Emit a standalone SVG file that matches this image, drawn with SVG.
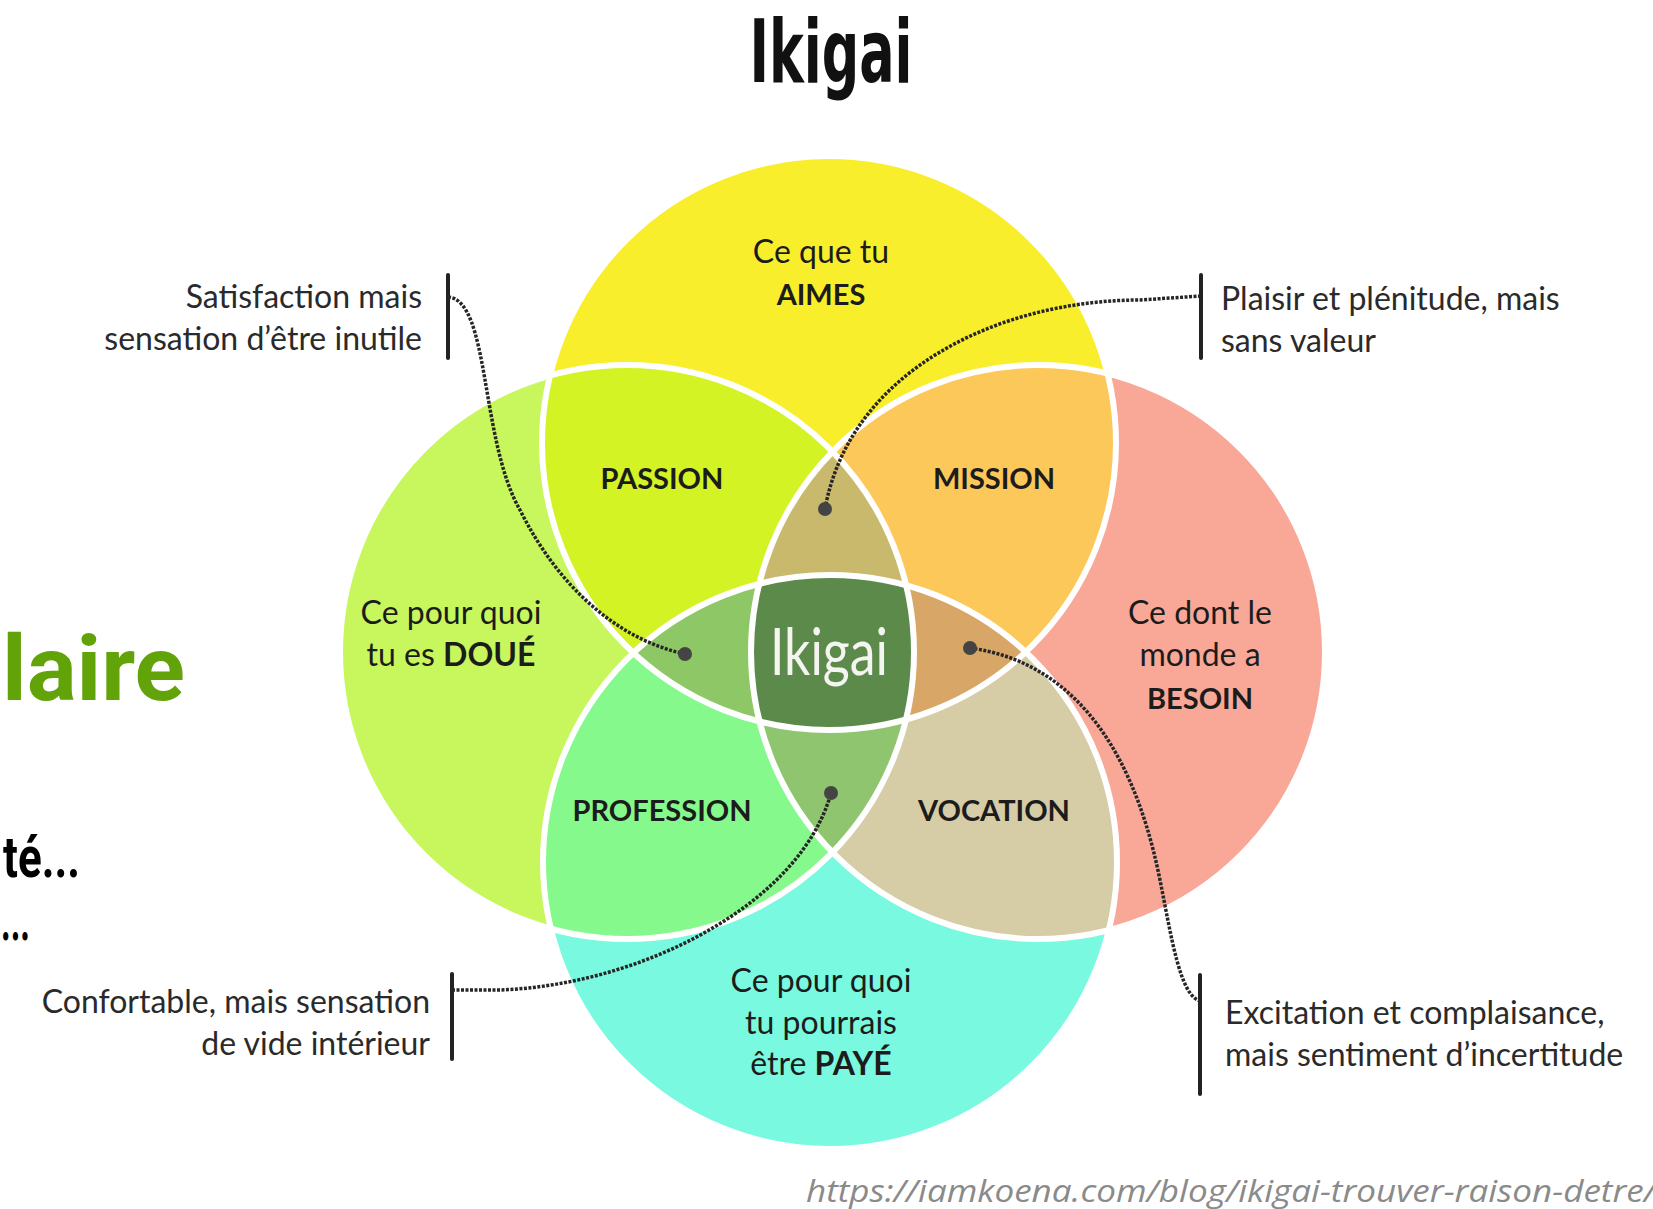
<svg xmlns="http://www.w3.org/2000/svg" width="1653" height="1209" viewBox="0 0 1653 1209">
<style>
.lbl{font-family:Lato,"Open Sans","DejaVu Sans",sans-serif;font-size:32px;fill:#1c1c1c;text-anchor:middle}
.b{font-weight:bold;font-size:29px}
.side{font-family:Lato,"Open Sans","DejaVu Sans",sans-serif;font-size:32px;fill:#2a2a2a}
.end{text-anchor:end}
.con{stroke:#262626;stroke-width:3.5;stroke-dasharray:3 1.5;fill:none}
.brk{stroke:#222;stroke-width:4;stroke-linecap:round}
.ring{fill:none;stroke:#fff;stroke-width:6}
.pt{fill:#444}
.geo{font-family:Roboto,"DejaVu Sans",sans-serif;font-weight:bold}
</style>
<defs>
<clipPath id="kT"><circle cx="829" cy="443" r="287"/></clipPath>
<clipPath id="kB"><circle cx="830" cy="862" r="287"/></clipPath>
<clipPath id="kL"><circle cx="627" cy="652" r="287"/></clipPath>
<clipPath id="kR"><circle cx="1038" cy="652" r="287"/></clipPath>
</defs>
<rect width="1653" height="1209" fill="#fff"/>

<g id="title"><text x="831" y="82" text-anchor="middle" font-family="'Liberation Sans Narrow','DejaVu Sans Condensed',sans-serif" font-weight="bold" font-size="88" textLength="163" lengthAdjust="spacingAndGlyphs" fill="#111">Ikigai</text></g>

<g id="left-heading">
<text x="2" y="700" class="geo" font-size="90" fill="#62a30a" textLength="183" lengthAdjust="spacingAndGlyphs">laire</text>
<text x="3" y="877" class="geo" font-size="58" fill="#000" textLength="77" lengthAdjust="spacingAndGlyphs">té...</text>
<text x="1" y="940" class="geo" font-size="58" fill="#000" textLength="29" lengthAdjust="spacingAndGlyphs">...</text>
</g>

<g id="circles">
<circle id="c-aimes" cx="829" cy="443" r="287" fill="#f8ee2c"/>
<circle id="c-doue" cx="627" cy="652" r="287" fill="#c7f65d"/>
<circle id="c-besoin" cx="1038" cy="652" r="287" fill="#f9a897"/>
<circle id="c-paye" cx="830" cy="862" r="287" fill="#79f9df"/>
<g clip-path="url(#kT)"><circle cx="627" cy="652" r="287" fill="#d3f324"/><circle cx="1038" cy="652" r="287" fill="#fcc85a"/></g>
<g clip-path="url(#kB)"><circle cx="627" cy="652" r="287" fill="#86f98c"/><circle cx="1038" cy="652" r="287" fill="#d6cca5"/></g>
<g clip-path="url(#kT)"><g clip-path="url(#kL)"><circle cx="1038" cy="652" r="287" fill="#c9b96d"/><circle cx="830" cy="862" r="287" fill="#8ec866"/></g></g>
<g clip-path="url(#kB)"><g clip-path="url(#kR)"><circle cx="829" cy="443" r="287" fill="#d8a666"/><circle cx="627" cy="652" r="287" fill="#8fc56f"/></g></g>
<g clip-path="url(#kT)"><g clip-path="url(#kB)"><g clip-path="url(#kL)"><circle cx="1038" cy="652" r="287" fill="#5b8a4b"/></g></g></g>
<circle class="ring" cx="829" cy="443" r="287"/>
<circle class="ring" cx="627" cy="652" r="287"/>
<circle class="ring" cx="1038" cy="652" r="287"/>
<circle class="ring" cx="830" cy="862" r="287"/>
</g>

<g id="node-aimes"><text class="lbl" x="821" y="263">Ce que tu</text><text class="lbl b" x="821" y="305">AIMES</text></g>
<g id="node-doue"><text class="lbl" x="451" y="624">Ce pour quoi</text><text class="lbl" x="451" y="666">tu es <tspan font-weight="bold">DOUÉ</tspan></text></g>
<g id="node-besoin"><text class="lbl" x="1200" y="624">Ce dont le</text><text class="lbl" x="1200" y="666">monde a</text><text class="lbl b" x="1200" y="709">BESOIN</text></g>
<g id="node-paye"><text class="lbl" x="821" y="992">Ce pour quoi</text><text class="lbl" x="821" y="1034">tu pourrais</text><text class="lbl" x="821" y="1075">être <tspan font-weight="bold">PAYÉ</tspan></text></g>
<g id="node-passion"><text class="lbl b" x="662" y="489">PASSION</text></g>
<g id="node-mission"><text class="lbl b" x="994" y="489">MISSION</text></g>
<g id="node-profession"><text class="lbl b" x="662" y="821">PROFESSION</text></g>
<g id="node-vocation"><text class="lbl b" x="994" y="821">VOCATION</text></g>
<g id="node-ikigai"><text x="829" y="675" text-anchor="middle" font-family="Lato,'Open Sans',sans-serif" font-size="66" fill="#f4f4f0" textLength="118" lengthAdjust="spacingAndGlyphs">Ikigai</text></g>

<g id="note-tl"><text class="side end" x="422" y="308">Satisfaction mais</text><text class="side end" x="422" y="350">sensation d’être inutile</text><line class="brk" x1="448" y1="275" x2="448" y2="358"/></g>
<g id="note-tr"><text class="side" x="1221" y="310">Plaisir et plénitude, mais</text><text class="side" x="1221" y="352">sans valeur</text><line class="brk" x1="1201" y1="275" x2="1201" y2="358"/></g>
<g id="note-bl"><text class="side end" x="430" y="1013">Confortable, mais sensation</text><text class="side end" x="430" y="1055">de vide intérieur</text><line class="brk" x1="452" y1="974" x2="452" y2="1059"/></g>
<g id="note-br"><text class="side" x="1225" y="1024">Excitation et complaisance,</text><text class="side" x="1225" y="1066">mais sentiment d’incertitude</text><line class="brk" x1="1200" y1="975" x2="1200" y2="1094"/></g>

<g id="connectors">
<path class="con" d="M448,297 C490,300 480,440 520,510 C560,590 620,640 685,654"/>
<path class="con" d="M1201,296 L1140,300 C1000,300 850,370 825,509"/>
<path class="con" d="M452,990 L500,990 C640,985 800,905 831,793"/>
<path class="con" d="M970,648 C1060,660 1130,730 1160,880 C1172,940 1180,995 1200,1001"/>
<circle class="pt" cx="685" cy="654" r="7"/>
<circle class="pt" cx="825" cy="509" r="7"/>
<circle class="pt" cx="831" cy="793" r="7"/>
<circle class="pt" cx="970" cy="648" r="7"/>
</g>

<g id="source"><text x="806" y="1202" font-family="'Open Sans','Noto Sans',sans-serif" font-style="italic" font-size="31" fill="#8a8a8a" textLength="850" lengthAdjust="spacingAndGlyphs">https://iamkoena.com/blog/ikigai-trouver-raison-detre/</text></g>
</svg>
